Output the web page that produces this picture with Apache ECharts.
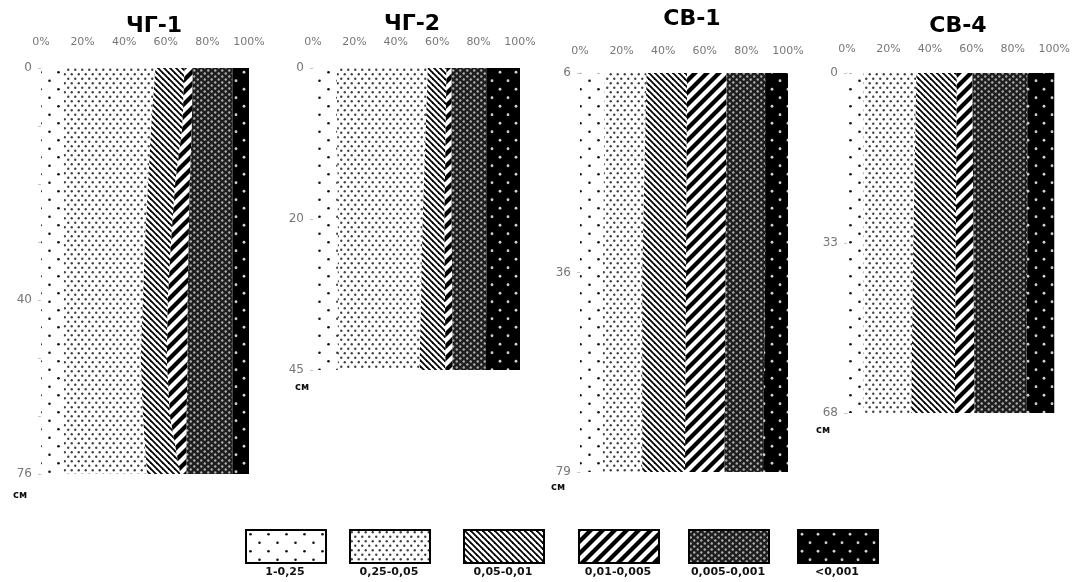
<!DOCTYPE html>
<html><head><meta charset="utf-8">
<script src="https://cdn.jsdelivr.net/npm/echarts@6/dist/echarts.min.js"></script>
<style>html,body{margin:0;padding:0;background:#fff}#c{width:1073px;height:582px}</style>
</head><body><div id="c"></div>
<script>
// ---- data ----
const fractions = ['1-0,25', '0,25-0,05', '0,05-0,01', '0,01-0,005', '0,005-0,001', '<0,001'];
const xTicks = [0, 20, 40, 60, 80, 100];

const depthsCG1 = ['0', '10', '20', '30', '40', '50', '60', '76'];
const shownCG1 = ['0', '40', '76'];
const cg1_1 = [11, 11, 11, 11, 11, 11, 11, 11];
const cg1_2 = [44, 42, 40.5, 39, 38, 37, 38, 40];
const cg1_3 = [14, 15, 13, 12.5, 12, 12.5, 13, 16];
const cg1_4 = [4, 4.5, 7, 8.5, 9.5, 10, 8, 3];
const cg1_5 = [19, 19.5, 20.5, 21, 21.5, 21.5, 22, 22];
const cg1_6 = [8, 8, 8, 8, 8, 8, 8, 8];

const depthsCG2 = ['0', '20', '45'];
const shownCG2 = ['0', '20', '45'];
const cg2_1 = [11.5, 12, 12];
const cg2_2 = [44, 41, 39.5];
const cg2_3 = [9, 10.5, 12.5];
const cg2_4 = [2.5, 3.5, 3.5];
const cg2_5 = [17, 17, 16];
const cg2_6 = [16, 16, 16.5];

const depthsSV1 = ['6', '36', '79'];
const shownSV1 = ['6', '36', '79'];
const sv1_1 = [12, 11, 11];
const sv1_2 = [20, 19, 19];
const sv1_3 = [19.5, 21, 20.5];
const sv1_4 = [19, 19, 19];
const sv1_5 = [18.5, 19, 18.5];
const sv1_6 = [11, 11, 12];

const depthsSV4 = ['0', '33', '68'];
const shownSV4 = ['0', '33', '68'];
const sv4_1 = [8, 8, 8];
const sv4_2 = [25.5, 24, 23];
const sv4_3 = [19.5, 20.5, 21];
const sv4_4 = [7.5, 8.5, 9.5];
const sv4_5 = [26.5, 26, 25];
const sv4_6 = [13, 13, 13.5];

const titles = ['ЧГ-1', 'ЧГ-2', 'СВ-1', 'СВ-4'];
const unitLabel = 'см';

// ---- patterns ----
function mk(w, h, draw) {
  const c = document.createElement('canvas'); c.width = w; c.height = h;
  const g = c.getContext('2d'); draw(g, w, h); return c;
}
function dotPat(w, h, bg, fg, r, pts) {
  return mk(w, h, (g) => {
    g.fillStyle = bg; g.fillRect(0, 0, w, h); g.fillStyle = fg;
    pts.forEach(p => { g.beginPath(); g.arc(p[0], p[1], r, 0, Math.PI * 2); g.fill(); });
  });
}
function stripePat(s, lw, dir) {
  return mk(s, s, (g) => {
    g.fillStyle = '#fff'; g.fillRect(0, 0, s, s);
    g.strokeStyle = '#000'; g.lineWidth = lw; g.lineCap = 'square';
    for (let k = -1; k <= 1; k++) {
      g.beginPath();
      if (dir === 'back') { g.moveTo(k * s - 1, -1); g.lineTo(k * s + s + 1, s + 1); }
      else { g.moveTo(k * s - 1, s + 1); g.lineTo(k * s + s + 1, -1); }
      g.stroke();
    }
  });
}
const pats = [
  dotPat(18, 17, '#fff', '#111', 1.3, [[4.5, 4.25], [13.5, 12.75]]),
  dotPat(7, 9, '#fff', '#444', 1.2, [[1.75, 2.25], [5.25, 6.75]]),
  stripePat(6, 1.8, 'back'),
  stripePat(12, 4.2, 'fwd'),
  dotPat(7, 6, '#1e1e1e', '#b0b0b0', 1.2, [[1.75, 1.5], [5.25, 4.5]]),
  dotPat(16, 17, '#000', '#cfcfcf', 1.4, [[4, 4.25], [12, 12.75]])
].map(c => ({ image: c, repeat: 'repeat' }));

const panels = [
  { depths: depthsCG1, shown: shownCG1, vals: [cg1_1, cg1_2, cg1_3, cg1_4, cg1_5, cg1_6] },
  { depths: depthsCG2, shown: shownCG2, vals: [cg2_1, cg2_2, cg2_3, cg2_4, cg2_5, cg2_6] },
  { depths: depthsSV1, shown: shownSV1, vals: [sv1_1, sv1_2, sv1_3, sv1_4, sv1_5, sv1_6] },
  { depths: depthsSV4, shown: shownSV4, vals: [sv4_1, sv4_2, sv4_3, sv4_4, sv4_5, sv4_6] }
];

// ---- layout ----
const grids = [
  { left: 41, top: 68, width: 208, height: 406 },
  { left: 313, top: 68, width: 207, height: 302 },
  { left: 580, top: 73, width: 208, height: 399 },
  { left: 847, top: 73, width: 208, height: 340 }
];
const labelMargins = [20, 20, 16, 18];
const titlePos = [[149, 10], [407, 8], [687, 3], [953, 10]];
const unitPos = [[20, 495], [302, 387], [558, 487], [823, 430]];
const legendLeft = [245, 349, 463, 578, 688, 797];
const FONT = 'DejaVu Sans';

const option = {
  animation: false,
  backgroundColor: '#fff',
  title: titles.map((t, i) => ({
    text: t, left: titlePos[i][0], top: titlePos[i][1], textAlign: 'center',
    textStyle: { fontFamily: FONT, fontWeight: 'bold', fontSize: 22, color: '#000' }
  })),
  grid: grids.map(g => Object.assign({ containLabel: false }, g)),
  xAxis: grids.map((g, i) => ({
    type: 'value', gridIndex: i, position: 'top', min: xTicks[0], max: xTicks[xTicks.length - 1],
    interval: xTicks[1] - xTicks[0],
    axisLine: { show: false }, axisTick: { show: false }, splitLine: { show: false },
    axisLabel: { formatter: '{value}%', margin: labelMargins[i], fontFamily: FONT, fontSize: 11, color: '#777' }
  })),
  yAxis: panels.map((p, i) => ({
    type: 'category', gridIndex: i, inverse: true, boundaryGap: false, data: p.depths,
    axisLine: { show: true, lineStyle: { color: '#c8c8c8', width: 1 } },
    axisTick: { show: true, length: 3, interval: 0, lineStyle: { color: '#c8c8c8' } },
    splitLine: { show: false },
    axisLabel: {
      interval: (idx, v) => p.shown.indexOf(v) >= 0, margin: 9,
      fontFamily: FONT, fontSize: 12, color: '#777'
    }
  })),
  legend: fractions.map((f, i) => ({
    data: [{ name: f, itemStyle: { color: pats[i], borderColor: '#000', borderWidth: 2 } }],
    icon: 'rect', left: legendLeft[i], top: 529, padding: 0, itemWidth: 80, itemHeight: 33,
    formatter: () => '', selectedMode: false
  })),
  graphic: [
    ...fractions.map((f, i) => ({
      type: 'text', x: legendLeft[i] + 40, y: 572, silent: true,
      style: { text: f, fontFamily: FONT, fontWeight: 'bold', fontSize: 11, fill: '#111', align: 'center', verticalAlign: 'middle' }
    })),
    ...unitPos.map(p => ({
      type: 'text', x: p[0], y: p[1], silent: true,
      style: { text: unitLabel, fontFamily: FONT, fontWeight: 'bold', fontSize: 10, fill: '#111', align: 'center', verticalAlign: 'middle' }
    }))
  ],
  series: []
};

panels.forEach((p, gi) => {
  fractions.forEach((f, fi) => {
    option.series.push({
      type: 'line', name: f, xAxisIndex: gi, yAxisIndex: gi, stack: 'panel' + gi,
      data: p.vals[fi], symbol: 'none', showSymbol: false, silent: true,
      lineStyle: { width: 0 }, itemStyle: { color: '#000' },
      areaStyle: { color: pats[fi], opacity: 1 },
      emphasis: { disabled: true }
    });
  });
});

const chart = echarts.init(document.getElementById('c'), null, { renderer: 'canvas' });
chart.setOption(option);
</script>
</body></html>
